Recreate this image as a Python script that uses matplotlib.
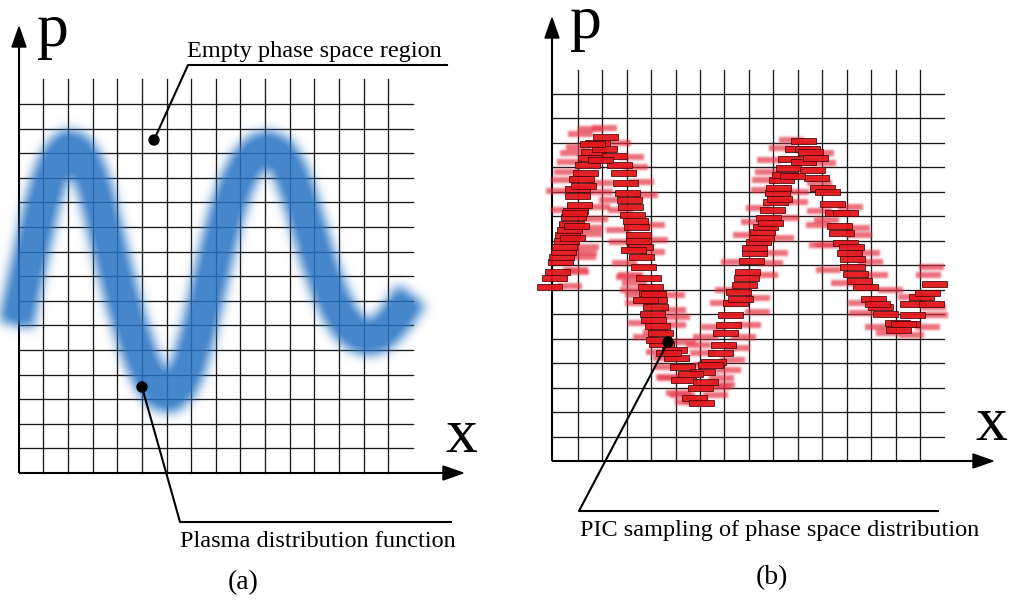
import numpy as np
import matplotlib
matplotlib.use("Agg")
import matplotlib.pyplot as plt
from matplotlib.figure import Figure
from matplotlib.backends.backend_agg import FigureCanvasAgg
from matplotlib.patches import Rectangle, Polygon, Circle

W, H, DPI = 1010, 603, 100
SERIF = "Liberation Serif"

# ---- panel (a): centre line of the smooth distribution band (x, p) ----
band_x = [16, 21, 27, 34, 42, 51, 60, 68, 77, 86, 95, 104, 113, 122, 131, 140,
          150, 160, 170, 180, 189, 198, 207, 216, 226, 236, 247, 258, 268, 279,
          289, 299, 309, 319, 329, 339, 349, 359, 369, 379, 389, 398, 406, 412]
band_y = [325, 300, 272, 240, 205, 174, 155, 147, 150, 164, 188, 225, 262, 297,
          328, 355, 378, 393, 395, 386, 365, 333, 295, 255, 215, 185, 163, 151,
          148, 153, 169, 195, 228, 262, 290, 312, 327, 335, 338, 335, 326, 315,
          303, 295]

# ---- panel (b): macro-particles (solid) ----
solid_x = [549, 554, 557, 560, 561, 563, 564, 566, 567, 569, 571, 573, 575, 579,
           577, 577, 581, 585, 587, 590, 593, 604, 597, 605, 614,
           619, 623, 625, 627, 629, 630, 632, 635, 636, 638, 638, 640, 641, 643,
           648, 650, 651,
           653, 654, 655, 652, 653, 657, 660, 661, 674, 676, 682, 702, 690, 683,
           705, 700, 694, 701,
           713, 720, 723, 725, 728, 730, 735, 740, 744, 746, 747, 751, 754, 754,
           758, 761, 762, 765, 768, 772, 775, 779, 777, 778, 781, 784, 788, 790,
           797, 803, 807, 803, 815, 812, 816,
           822, 827, 832, 837, 845, 839, 841, 845, 851, 852, 852, 855, 859, 865,
           873, 880, 885, 897, 907, 898, 912, 912, 931, 921, 927, 934,
           572, 576, 574, 583, 600, 592, 633, 645, 658, 668, 710, 738, 770, 792,
           810, 849, 877, 903]
solid_y = [287, 278, 272, 262, 257, 252, 247, 241, 235, 230, 224, 217, 211, 205,
           196, 189, 179, 173, 165, 158, 152, 149, 143, 137, 156,
           165, 173, 183, 193, 200, 207, 215, 221, 227, 235, 241, 247, 257, 267,
           278, 287, 293,
           294, 300, 307, 314, 320, 326, 333, 344, 350, 358, 367, 372, 374, 380,
           382, 388, 398, 403,
           362, 353, 345, 333, 325, 315, 303, 299, 285, 278, 272, 261, 253, 248,
           242, 238, 232, 227, 218, 210, 202, 199, 193, 188, 180, 175, 168, 159,
           149, 141, 149, 162, 158, 170, 178,
           188, 192, 204, 213, 213, 226, 233, 243, 247, 259, 267, 274, 281, 287,
           299, 307, 314, 323, 324, 330, 315, 304, 304, 297, 293, 284,
           238, 226, 213, 186, 160, 144, 250, 300, 340, 353, 365, 292, 223, 176,
           152, 253, 304, 324]

# ---- panel (b): macro-particles at earlier positions (faded) ----
faded_x = [590, 604, 580, 618, 578, 572, 631, 569, 635, 566, 563, 641, 600, 558,
           600, 645, 611, 597, 620, 595, 590, 618, 589, 621, 586, 584, 583, 652,
           624, 576, 628, 569, 632, 575, 563, 652, 655,
           630, 634, 637, 672, 637, 673, 677, 640, 673, 655, 645, 683, 658, 702,
           665, 665, 705, 668, 722, 678, 715, 687, 722, 713, 705, 698, 757, 748,
           743, 737, 732, 728, 721, 718, 670, 682, 695,
           791, 781, 821, 769, 823, 767, 764, 819, 763, 796, 795, 758, 819, 786,
           753, 818, 745, 781, 821, 775, 733, 770, 765, 727, 757,
           850, 826, 857, 859, 827, 867, 870, 931, 828, 928, 875, 843, 890, 910,
           860, 933, 861, 935, 877, 927, 888, 911]
faded_y = [129, 128, 134, 143, 147, 153, 157, 162, 167, 172, 180, 182, 183, 191,
           192, 195, 200, 207, 210, 219, 228, 230, 234, 242, 247, 253, 257, 252,
           263, 272, 277, 286, 290, 270, 210, 225, 240,
           275, 283, 295, 295, 303, 310, 317, 323, 325, 332, 337, 342, 352, 353,
           358, 367, 365, 377, 385, 393, 395, 402, 303, 327, 337, 345, 312, 325,
           337, 348, 360, 370, 378, 387, 378, 395, 402,
           140, 148, 153, 160, 163, 172, 180, 183, 190, 192, 202, 208, 211, 218,
           222, 225, 235, 238, 245, 253, 262, 263, 275, 290, 298,
           207, 220, 228, 235, 245, 253, 262, 267, 270, 275, 275, 283, 290, 297,
           303, 307, 313, 315, 327, 327, 333, 335]

RECT_W, RECT_H = 25, 6.2


def pixel_axes(fig):
    a = fig.add_axes([0, 0, 1, 1])
    a.set_xlim(0, W)
    a.set_ylim(H, 0)
    a.axis("off")
    return a


def render_mask(draw):
    f = Figure(figsize=(W / DPI, H / DPI), dpi=DPI)
    FigureCanvasAgg(f)
    a = pixel_axes(f)
    draw(a)
    f.canvas.draw()
    rgba = np.asarray(f.canvas.buffer_rgba()).astype(float)
    return 1.0 - rgba[..., 0] / 255.0


def blur(mask, sigma):
    r = int(3 * sigma) + 1
    k = np.exp(-0.5 * (np.arange(-r, r + 1) / sigma) ** 2)
    k /= k.sum()
    m = np.apply_along_axis(lambda v: np.convolve(v, k, mode="same"), 0, mask)
    m = np.apply_along_axis(lambda v: np.convolve(v, k, mode="same"), 1, m)
    return m


def colored_layer(mask, rgb, alpha):
    img = np.zeros(mask.shape + (4,))
    img[..., :3] = np.array(rgb) / 255.0
    img[..., 3] = np.clip(mask, 0, 1) * alpha
    return img


fig = plt.figure(figsize=(W / DPI, H / DPI), dpi=DPI)
ax = pixel_axes(fig)

GRID_LW = 0.95
AX_LW = 1.5
LEAD_LW = 1.5


# ---------------- grids ----------------
def draw_grid(x0, vx0, dx, y_top_v, hy0, dy, y_axis, x_right_h):
    for k in range(15):
        x = vx0 + k * dx
        ax.plot([x, x], [y_top_v, y_axis], color="#1a1a1a", lw=GRID_LW, zorder=2)
    for k in range(15):
        y = hy0 + k * dy
        ax.plot([x0, x_right_h], [y, y], color="#1a1a1a", lw=GRID_LW, zorder=2)


draw_grid(19, 43.3, 24.64, 79, 104, 24.6, 473, 413)
draw_grid(552, 577.7, 24.45, 70, 94, 24.47, 461, 944)


def arrow_axes(x0, y0, xtip, ytop):
    ax.plot([x0, x0], [y0, ytop + 18], color="black", lw=AX_LW, zorder=2,
            solid_capstyle="butt")
    ax.plot([x0, xtip - 18], [y0, y0], color="black", lw=AX_LW, zorder=2,
            solid_capstyle="butt")
    ax.add_patch(Polygon([[x0, ytop], [x0 - 7, ytop + 20], [x0 + 7, ytop + 20]],
                         closed=True, color="black", zorder=2))
    ax.add_patch(Polygon([[xtip, y0], [xtip - 20, y0 - 7], [xtip - 20, y0 + 7]],
                         closed=True, color="black", zorder=2))


arrow_axes(19, 473, 463, 27)
arrow_axes(552, 461, 993, 18)

# ---------------- panel (a): blurred phase-space band ----------------
band_mask = render_mask(lambda a: a.plot(band_x, band_y, color="black", lw=25,
                                         solid_joinstyle="round",
                                         solid_capstyle="butt"))
band_mask = blur(band_mask, 5.5)
ax.imshow(colored_layer(band_mask * 1.1, (40, 115, 195), 0.86),
          extent=(0, W, H, 0), interpolation="bilinear", zorder=3)

# ---------------- panel (b): particles ----------------
def draw_faded(a):
    for x, y in zip(faded_x, faded_y):
        a.add_patch(Rectangle((x - RECT_W / 2, y - RECT_H / 2), RECT_W, RECT_H,
                              facecolor="black", edgecolor="none", alpha=0.75))


faded_mask = blur(render_mask(draw_faded), 1.2)
ax.imshow(colored_layer(faded_mask, (228, 45, 65), 0.92), extent=(0, W, H, 0),
          interpolation="bilinear", zorder=3)

for x, y in zip(solid_x, solid_y):
    ax.add_patch(Rectangle((x - RECT_W / 2, y - RECT_H / 2), RECT_W, RECT_H,
                           facecolor="#e3171d", edgecolor="#4a0808", lw=0.6,
                           alpha=0.95, zorder=4))

# ---------------- annotations ----------------
ax.text(37, 46, "p", fontsize=46, family=SERIF, va="baseline", ha="left", zorder=6)
ax.text(445, 452, "x", fontsize=46, family=SERIF, va="baseline", ha="left", zorder=6)
ax.text(570, 38, "p", fontsize=46, family=SERIF, va="baseline", ha="left", zorder=6)
ax.text(975, 440, "x", fontsize=46, family=SERIF, va="baseline", ha="left", zorder=6)

# leader: empty region
ax.plot([447, 188, 154], [65, 65, 140], color="black", lw=LEAD_LW, zorder=6)
ax.add_patch(Circle((154, 140), 5, color="black", zorder=6))
ax.text(187, 57, "Empty phase space region", fontsize=17.5, family=SERIF,
        va="baseline", ha="left", zorder=6)

# leader: distribution function
ax.plot([142, 180, 451], [387, 522, 522], color="black", lw=LEAD_LW, zorder=6)
ax.add_patch(Circle((142, 387), 5, color="black", zorder=6))
ax.text(180, 547, "Plasma distribution function", fontsize=17.5, family=SERIF,
        va="baseline", ha="left", zorder=6)

# leader: PIC sampling
ax.plot([668, 579, 938], [342, 511, 511], color="black", lw=LEAD_LW, zorder=6)
ax.add_patch(Circle((668, 342), 5, color="black", zorder=6))
ax.text(580, 536, "PIC sampling of phase space distribution", fontsize=17.5,
        family=SERIF, va="baseline", ha="left", zorder=6)

ax.text(243, 583, "(a)", fontsize=20, family=SERIF, ha="center", va="center", zorder=6)
ax.text(772, 578, "(b)", fontsize=20, family=SERIF, ha="center", va="center", zorder=6)

fig.savefig("out.png", dpi=DPI, facecolor="white")
